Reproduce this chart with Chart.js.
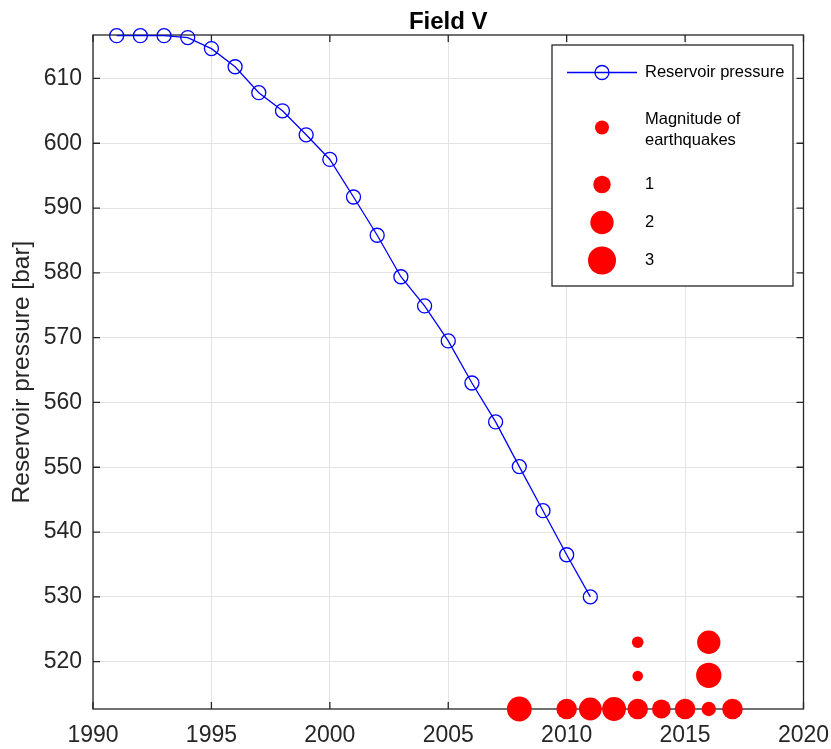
<!DOCTYPE html>
<html>
<head>
<meta charset="utf-8">
<script src="https://cdn.jsdelivr.net/npm/chart.js@4/dist/chart.umd.min.js"></script>
<style>
  html, body { margin: 0; padding: 0; background: #fff; }
  #wrap { width: 831px; height: 749px; position: relative; }
</style>
</head>
<body>
<div id="wrap"><canvas id="c" width="831" height="749"></canvas></div>
<script>
// ---- data ----
const chartTitle = 'Field V';
const yAxisTitle = 'Reservoir pressure [bar]';
const pressureYears = [1991,1992,1993,1994,1995,1996,1997,1998,1999,2000,2001,2002,2003,2004,2005,2006,2007,2008,2009,2010,2011];
const pressureValues = [616.6,616.6,616.6,616.3,614.6,611.8,607.8,605.0,601.3,597.5,591.7,585.8,579.4,574.9,569.5,563.0,557.0,550.1,543.3,536.5,530.0];
const quakeYears = [2008,2010,2011,2012,2013,2014,2015,2016,2017,2013,2013,2016,2016];
const quakeLevels = [512.7,512.7,512.7,512.7,512.7,512.7,512.7,512.7,512.7,523.0,517.8,523.0,517.9];
const quakeMagnitudes = [2.3,1.5,1.9,2.1,1.5,1.2,1.5,0.6,1.5,0.3,0.2,2.0,2.4];
const legendMagnitudes = [1,2,3];
const xTickValues = [1990,1995,2000,2005,2010,2015,2020];
const yTickValues = [520,530,540,550,560,570,580,590,600,610];
const seriesLabels = ['Reservoir pressure', 'Magnitude of earthquakes'];

// ---- style ----
const FONT = '"Liberation Sans", Arial, Helvetica, sans-serif';
const AXIS_COLOR = '#262626';
const GRID_COLOR = '#e3e3e3';
const magRadius = m => Math.sqrt(16 + 60 * m);

const pressureData = pressureYears.map((x, i) => ({x, y: pressureValues[i]}));
const quakeData = quakeYears.map((x, i) => ({x, y: quakeLevels[i], m: quakeMagnitudes[i]}));

const frame = {
  id: 'frame',
  beforeDatasetsDraw(chart) {
    const {ctx, chartArea: a, scales} = chart;
    ctx.save();
    ctx.strokeStyle = AXIS_COLOR;
    ctx.lineWidth = 1.3;
    ctx.strokeRect(a.left, a.top, a.right - a.left, a.bottom - a.top);
    const tl = 7;
    ctx.beginPath();
    xTickValues.forEach(v => {
      const px = scales.x.getPixelForValue(v);
      ctx.moveTo(px, a.bottom); ctx.lineTo(px, a.bottom - tl);
      ctx.moveTo(px, a.top); ctx.lineTo(px, a.top + tl);
    });
    yTickValues.forEach(v => {
      const py = scales.y.getPixelForValue(v);
      ctx.moveTo(a.left, py); ctx.lineTo(a.left + tl, py);
      ctx.moveTo(a.right, py); ctx.lineTo(a.right - tl, py);
    });
    ctx.stroke();
    ctx.restore();
  },
  afterDraw(chart) {
    const {ctx, chartArea: a} = chart;
    ctx.save();
    // title
    ctx.fillStyle = '#000';
    ctx.font = 'bold 24px ' + FONT;
    ctx.textAlign = 'center';
    ctx.textBaseline = 'alphabetic';
    ctx.fillText(chartTitle, (a.left + a.right) / 2, 28.5);

    // legend box
    const bx = 552, by = 45, bw = 241, bh = 241;
    ctx.fillStyle = '#fff';
    ctx.fillRect(bx, by, bw, bh);
    ctx.strokeStyle = AXIS_COLOR;
    ctx.lineWidth = 1.3;
    ctx.strokeRect(bx, by, bw, bh);
    const sx = 602, tx = 645;
    ctx.font = '16.5px ' + FONT;
    ctx.textAlign = 'left';
    ctx.textBaseline = 'middle';
    // pressure entry
    ctx.strokeStyle = '#0000ff';
    ctx.lineWidth = 1.3;
    ctx.beginPath(); ctx.moveTo(567, 72.5); ctx.lineTo(637, 72.5); ctx.stroke();
    ctx.beginPath(); ctx.arc(sx, 72.5, 7, 0, Math.PI * 2); ctx.stroke();
    ctx.fillStyle = '#000';
    ctx.fillText(seriesLabels[0], tx, 72.5);
    // earthquakes entry
    ctx.fillStyle = '#ff0000';
    ctx.beginPath(); ctx.arc(sx, 127.5, 7, 0, Math.PI * 2); ctx.fill();
    ctx.fillStyle = '#000';
    ctx.fillText('Magnitude of', tx, 119.5);
    ctx.fillText('earthquakes', tx, 140.5);
    const rowsY = [184.5, 222.5, 260.5];
    legendMagnitudes.forEach((m, i) => {
      ctx.fillStyle = '#ff0000';
      ctx.beginPath(); ctx.arc(sx, rowsY[i], magRadius(m), 0, Math.PI * 2); ctx.fill();
      ctx.fillStyle = '#000';
      ctx.fillText(String(m), tx, rowsY[i]);
    });
    ctx.restore();
  }
};

new Chart(document.getElementById('c'), {
  data: {
    datasets: [
      {
        type: 'line',
        label: seriesLabels[0],
        data: pressureData,
        borderColor: '#0000ff',
        borderWidth: 1.3,
        backgroundColor: 'rgba(0,0,0,0)',
        pointStyle: 'circle',
        pointRadius: 7,
        pointBorderWidth: 1.3,
        pointBorderColor: '#0000ff',
        pointBackgroundColor: 'rgba(0,0,0,0)',
        tension: 0,
        fill: false,
        clip: false,
        order: 2
      },
      {
        type: 'scatter',
        label: seriesLabels[1],
        data: quakeData,
        backgroundColor: '#ff0000',
        borderWidth: 0,
        pointRadius: ctx => magRadius(ctx.raw.m),
        clip: false,
        order: 1
      }
    ]
  },
  options: {
    responsive: false,
    animation: false,
    events: [],
    layout: { padding: { top: 35, right: 27.5, left: 0, bottom: 0 } },
    plugins: { legend: { display: false }, title: { display: false }, tooltip: { enabled: false } },
    scales: {
      x: {
        type: 'linear',
        min: xTickValues[0],
        max: xTickValues[xTickValues.length - 1],
        afterFit: s => { s.height = 40; s.paddingLeft = 0; s.paddingRight = 0; },
        afterBuildTicks: s => { s.ticks = xTickValues.map(v => ({value: v})); },
        grid: { color: GRID_COLOR, drawTicks: false, lineWidth: 1 },
        border: { display: false },
        ticks: {
          autoSkip: false, maxRotation: 0, padding: 13,
          color: AXIS_COLOR, font: { family: FONT, size: 23 },
          callback: v => String(v)
        }
      },
      y: {
        type: 'linear',
        min: Math.min(...quakeLevels),
        max: 616.7,
        afterFit: s => { s.width = 93; s.paddingTop = 0; s.paddingBottom = 0; },
        afterBuildTicks: s => { s.ticks = yTickValues.map(v => ({value: v})); },
        grid: { color: GRID_COLOR, drawTicks: false, lineWidth: 1 },
        border: { display: false },
        ticks: {
          autoSkip: false, padding: 11,
          color: AXIS_COLOR, font: { family: FONT, size: 23 },
          callback: v => String(v)
        },
        title: {
          display: true, text: yAxisTitle, color: AXIS_COLOR,
          font: { family: FONT, size: 24.5 }, padding: { top: 8, bottom: 0 }
        }
      }
    }
  },
  plugins: [frame]
});
</script>
</body>
</html>
